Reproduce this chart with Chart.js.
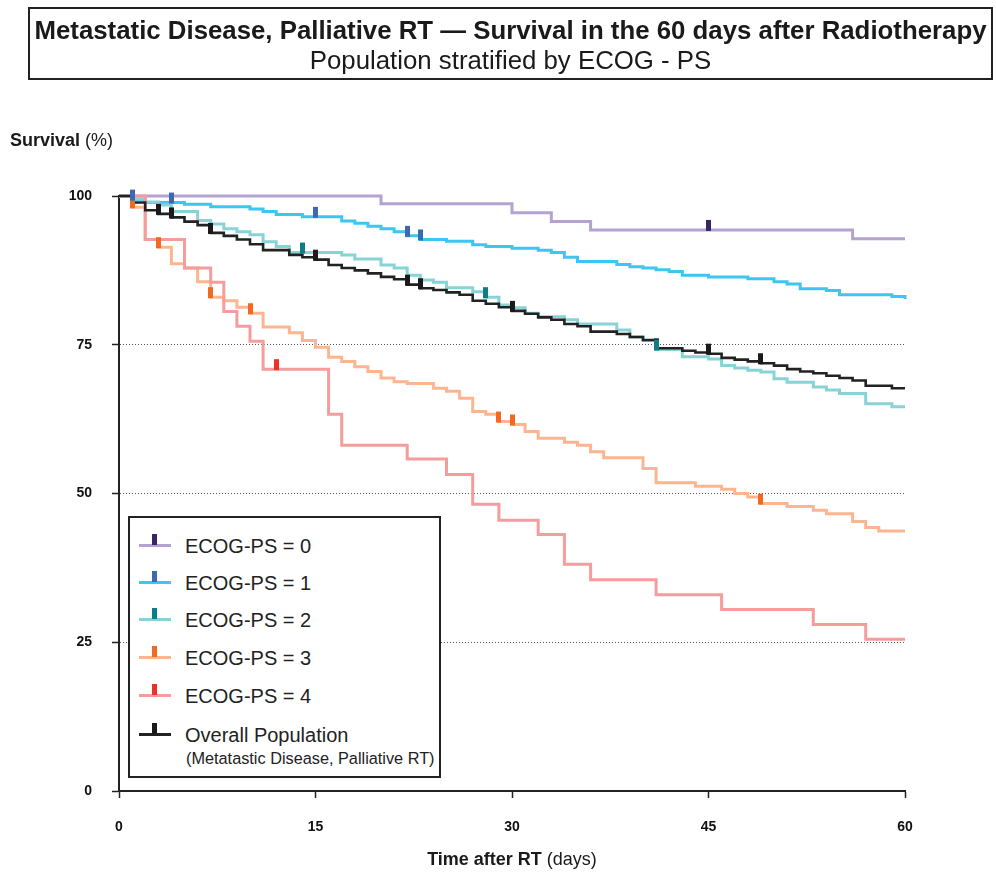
<!DOCTYPE html>
<html>
<head>
<meta charset="utf-8">
<script src="https://cdn.jsdelivr.net/npm/chart.js@4.4.1/dist/chart.umd.min.js"></script>
<style>
  html, body { margin: 0; padding: 0; background: #fff; }
  body { font-family: "Liberation Sans", Arial, sans-serif; color: #1a1a1a; }
  #wrap { position: relative; width: 996px; height: 876px; overflow: hidden; }
  #chart { position: absolute; left: 0; top: 0; }
  #titlebox { position: absolute; left: 28px; top: 7px; width: 965px; height: 73px; box-sizing: border-box;
              border: 2px solid #222; text-align: center; }
  #titlebox .t1 { position: absolute; left: -20px; right: -20px; top: 7px; font-size: 25.8px; font-weight: bold; line-height: 28px; white-space: nowrap; }
  #titlebox .t2 { position: absolute; left: 0; right: 0; top: 37px; font-size: 25.8px; line-height: 28px; white-space: nowrap; }
  .ytitle { position: absolute; left: 10px; top: 130px; font-size: 18px; line-height: 21px; white-space: nowrap; }
  .xtitle { position: absolute; left: 119px; width: 786px; top: 849px; font-size: 18px; line-height: 21px; text-align: center; white-space: nowrap; }
  #legend { position: absolute; left: 128px; top: 516px; width: 313px; height: 262px; box-sizing: border-box;
            border: 2px solid #222; background: #fff; }
  .lrow { position: absolute; left: 0; height: 30px; width: 300px; }
  .lline { position: absolute; left: 9px; width: 32px; height: 3px; }
  .ltick { position: absolute; left: 22px; width: 5px; height: 11px; }
  .ltext { position: absolute; left: 55px; font-size: 20px; line-height: 22px; white-space: nowrap; color: #222; }
  .lsub { position: absolute; left: 56px; font-size: 16.3px; line-height: 18px; white-space: nowrap; color: #222; }
</style>
</head>
<body>
<div id="wrap">
  <canvas id="chart" width="996" height="876"></canvas>
  <div id="titlebox">
    <div class="t1">Metastatic Disease, Palliative RT — Survival in the 60 days after Radiotherapy</div>
    <div class="t2">Population stratified by ECOG - PS</div>
  </div>
  <div class="ytitle"><b>Survival</b> (%)</div>
  <div class="xtitle"><b>Time after RT</b> (days)</div>
  <div id="legend"></div>
</div>
<script>
// ---------------- DATA ----------------
const xTickLabels = [0, 15, 30, 45, 60];
const yTickLabels = [0, 25, 50, 75, 100];
const categories = ["ECOG-PS = 0", "ECOG-PS = 1", "ECOG-PS = 2", "ECOG-PS = 3", "ECOG-PS = 4", "Overall Population"];

const ecog0Days = [0, 20, 30, 33, 36, 56, 60];
const ecog0Surv = [100, 98.7, 97.2, 95.7, 94.3, 92.8, 92.8];
const ecog0Cens = [45];

const ecog1Days = [0,1,2,5,7,10,11,12,14,17,18,19,20,21,22,23,25,27,28,30,32,33,34,35,38,39,40,41,42,43,45,48,50,51,52,54,55,59,60];
const ecog1Surv = [100,99.4,98.9,98.6,98.2,97.8,97.4,96.9,96.5,95.8,95.4,94.9,94.5,94.0,93.3,92.7,92.4,91.8,91.5,91.2,90.9,90.5,89.7,89.0,88.5,88.1,87.9,87.6,87.3,86.7,86.4,86.1,85.6,85.2,84.4,84.1,83.4,83.1,82.7];
const ecog1Cens = [1, 4, 15, 22, 23];

const ecog2Days = [0,1,2,3,4,6,7,8,9,10,11,12,13,17,18,20,21,22,23,24,25,27,28,29,30,31,32,34,35,38,39,40,41,43,45,46,47,48,49,50,51,53,54,55,57,59,60];
const ecog2Surv = [100,99.5,99.0,98.5,97.4,95.9,95.3,94.5,94.0,93.5,92.3,91.5,90.5,90.1,89.4,88.4,87.9,86.7,85.9,85.5,84.6,83.9,83.0,81.7,81.2,80.3,79.7,79.2,78.5,77.5,76.3,75.7,74.2,73.0,72.6,71.5,71.1,70.7,70.4,69.3,68.7,67.9,67.4,66.8,65.1,64.6,64.6];
const ecog2Cens = [14, 28, 41];

const ecog3Days = [0,1,2,3,4,5,6,7,8,9,10,11,13,14,15,16,17,18,19,20,21,22,24,25,26,27,28,29,30,31,32,34,35,36,37,40,41,44,46,47,48,49,51,53,54,56,57,58,60];
const ecog3Surv = [100,98.1,92.7,91.4,88.6,87.9,85.6,83.0,82.4,81.3,80.3,78.0,77.0,75.7,74.6,72.9,72.2,71.3,70.5,69.4,68.8,68.5,67.7,67.2,66.0,63.8,63.3,62.1,61.6,60.4,59.3,58.6,58.1,57.0,56.0,54.2,51.8,51.2,50.7,50.0,49.4,48.3,47.8,47.2,46.6,45.3,44.3,43.7,43.7];
const ecog3Cens = [1, 3, 7, 10, 29, 30, 49];

const ecog4Days = [0,2,5,7,8,9,10,11,16,17,22,25,27,29,32,34,36,41,46,53,57,60];
const ecog4Surv = [100,92.7,87.9,85.5,80.6,78.1,75.6,70.9,63.3,58.1,55.8,53.2,48.2,45.5,43.1,38.1,35.5,33.0,30.5,28.0,25.5,25.5];
const ecog4Cens = [12];

const overallDays = [0,1,2,3,4,5,6,7,8,9,10,11,13,14,15,16,17,18,19,20,21,22,23,24,25,26,27,28,29,30,31,32,33,34,35,36,38,39,40,41,43,44,45,46,47,48,49,50,51,52,53,54,55,56,57,59,60];
const overallSurv = [100,98.9,97.6,97.0,96.4,95.7,95.1,93.8,93.3,92.7,91.9,90.9,90.1,89.7,89.3,88.4,87.9,87.5,87.0,86.4,86.0,85.1,84.5,84.2,83.8,83.4,82.4,81.9,81.3,80.7,80.2,79.6,79.2,78.5,78.1,77.2,76.8,76.3,75.8,74.4,74.0,73.7,73.5,72.8,72.5,72.2,71.9,71.5,70.9,70.5,70.2,69.8,69.4,69.0,68.1,67.7,67.7];
const overallCens = [3, 4, 7, 15, 22, 23, 30, 41, 45, 49];

// ---------------- STYLE ----------------
const lineColors = ["#b4a2d0", "#3ec6f2", "#88d3d6", "#fdb590", "#f59c9d", "#222222"];
const tickColors = ["#3a2463", "#3f68b4", "#0e7d88", "#f26a21", "#ea3326", "#1a1a1a"];

const groups = [
  [ecog0Days, ecog0Surv, ecog0Cens],
  [ecog1Days, ecog1Surv, ecog1Cens],
  [ecog2Days, ecog2Surv, ecog2Cens],
  [ecog3Days, ecog3Surv, ecog3Cens],
  [ecog4Days, ecog4Surv, ecog4Cens],
  [overallDays, overallSurv, overallCens]
];

function valueAt(days, surv, d) {
  let v = surv[0];
  for (let i = 0; i < days.length; i++) { if (days[i] <= d) v = surv[i]; }
  return v;
}

function makeTickImage(color) {
  const c = document.createElement('canvas');
  c.width = 5; c.height = 24;
  const g = c.getContext('2d');
  g.fillStyle = color;
  g.fillRect(0, 2, 5, 11);
  return c;
}

const lineOrder = [6, 5, 3, 4, 2, 1];
const datasets = [];
groups.forEach((gr, i) => {
  const [days, surv] = gr;
  datasets.push({
    type: 'line',
    label: categories[i],
    data: days.map((d, k) => ({ x: d, y: surv[k] })),
    borderColor: lineColors[i],
    backgroundColor: lineColors[i],
    borderWidth: i === 5 ? 2.6 : 3,
    stepped: 'before',
    pointRadius: 0,
    pointHoverRadius: 0,
    fill: false,
    clip: false,
    order: 10 + lineOrder[i]
  });
});
groups.forEach((gr, i) => {
  const [days, surv, cens] = gr;
  datasets.push({
    type: 'scatter',
    label: categories[i] + ' censored',
    data: cens.map(d => ({ x: d, y: valueAt(days, surv, d) })),
    pointStyle: makeTickImage(tickColors[i]),
    pointRadius: 6,
    showLine: false,
    clip: false,
    order: 1
  });
});

// ---------------- LEGEND (HTML) ----------------
const legend = document.getElementById('legend');
const rowTops = [28, 65, 102, 140, 178, 217];
categories.forEach((name, i) => {
  const row = document.createElement('div');
  row.className = 'lrow';
  row.style.top = rowTops[i] + 'px';
  row.innerHTML =
    '<div class="lline" style="top:-2px;background:' + lineColors[i] + '"></div>' +
    '<div class="ltick" style="top:-12px;background:' + tickColors[i] + '"></div>' +
    '<div class="ltext" style="top:-11px">' + name + '</div>';
  legend.appendChild(row);
});
const sub = document.createElement('div');
sub.className = 'lsub';
sub.style.top = '231px';
sub.textContent = '(Metatastic Disease, Palliative RT)';
legend.appendChild(sub);

// ---------------- CHART ----------------
const tickFont = { family: '"Liberation Sans", Arial, sans-serif', size: 14, weight: 'bold' };

new Chart(document.getElementById('chart'), {
  data: { datasets },
  options: {
    responsive: false,
    animation: false,
    devicePixelRatio: 1,
    layout: { padding: { left: 0, top: 196, right: 91, bottom: 0 } },
    plugins: { legend: { display: false }, title: { display: false }, tooltip: { enabled: false } },
    events: [],
    scales: {
      x: {
        type: 'linear',
        min: 0, max: 60,
        afterFit: (s) => { s.height = 85; },
        afterBuildTicks: (s) => { s.ticks = xTickLabels.map(v => ({ value: v })); },
        ticks: { font: tickFont, color: '#111', padding: 21, maxRotation: 0 },
        grid: { drawOnChartArea: false, drawTicks: true, tickLength: 7, tickColor: '#222', tickWidth: 1.5 },
        border: { display: true, color: '#222', width: 2 }
      },
      y: {
        type: 'linear',
        min: 0, max: 100,
        afterFit: (s) => { s.width = 119; },
        afterBuildTicks: (s) => { s.ticks = yTickLabels.map(v => ({ value: v })); },
        ticks: { font: tickFont, color: '#111', padding: 20 },
        grid: {
          drawOnChartArea: true,
          color: (ctx) => (ctx.tick && ctx.tick.value > 0 && ctx.tick.value < 100) ? '#555' : 'rgba(0,0,0,0)',
          lineWidth: 1,
          drawTicks: true, tickLength: 7, tickColor: '#222', tickWidth: 1.5
        },
        border: { display: true, color: '#222', width: 2, dash: [1, 2] }
      }
    }
  }
});
</script>
</body>
</html>
